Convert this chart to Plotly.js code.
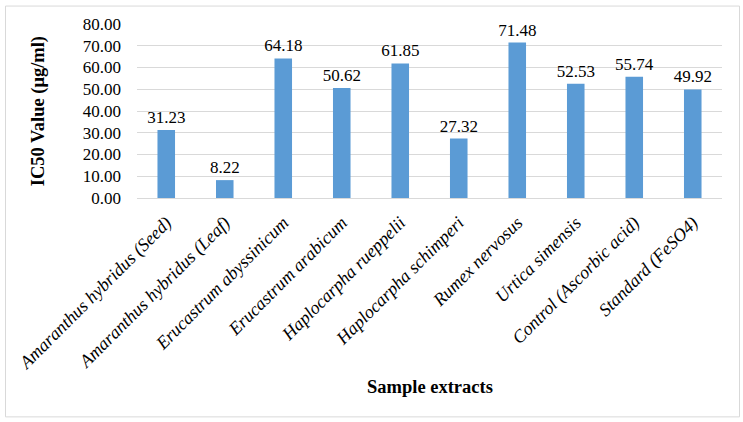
<!DOCTYPE html>
<html>
<head>
<meta charset="utf-8">
<script src="https://cdn.plot.ly/plotly-3.0.1.min.js"></script>
<style>html,body{margin:0;padding:0;background:#fff;}#chart{width:743px;height:422px;}</style>
</head>
<body>
<div id="chart"></div>
<script>
const categories = [
  "Amaranthus hybridus (Seed)",
  "Amaranthus hybridus (Leaf)",
  "Erucastrum abyssinicum",
  "Erucastrum arabicum",
  "Haplocarpha rueppelii",
  "Haplocarpha schimperi",
  "Rumex nervosus",
  "Urtica simensis",
  "Control (Ascorbic acid)",
  "Standard (FeSO4)"
];
const ic50Values = [31.23, 8.22, 64.18, 50.62, 61.85, 27.32, 71.48, 52.53, 55.74, 49.92];
const yTickValues = [0, 10, 20, 30, 40, 50, 60, 70, 80];
const xTitle = "Sample extracts";
const yTitle = "IC50 Value (μg/ml)";

const W = 743, H = 422;
const L = 137, R = 21, T = 23.5, B = 224;
const pw = W - L - R, ph = H - T - B;
const px = v => (v - L) / pw;
const py = v => (H - B - v) / ph;

const font = "Liberation Serif, Times New Roman, serif";

const trace = {
  type: "bar",
  x: categories,
  y: ic50Values,
  marker: {color: "#5B9BD5"},
  texttemplate: "%{y:.2f}",
  textposition: "outside",
  constraintext: "none",
  textfont: {family: font, size: 17, color: "#000"},
  outsidetextfont: {family: font, size: 17, color: "#000"},
  cliponaxis: false,
  hoverinfo: "x+y"
};

const layout = {
  width: W, height: H,
  margin: {l: L, r: R, t: T, b: B, pad: 0},
  paper_bgcolor: "#fff",
  plot_bgcolor: "#fff",
  bargap: 0.7,
  showlegend: false,
  font: {family: font, color: "#000"},
  xaxis: {
    type: "category",
    tickangle: -45,
    tickfont: {family: font, size: 18, style: "italic", color: "#000"},
    ticklabelstandoff: 6,
    showline: true, linecolor: "#D9D9D9", linewidth: 1,
    showgrid: false, ticks: "", automargin: false
  },
  yaxis: {
    range: [0, 80],
    tickvals: yTickValues,
    tickformat: ".2f",
    tickfont: {family: font, size: 17, color: "#000"},
    showgrid: true, gridcolor: "#D9D9D9", gridwidth: 1,
    zeroline: false, showline: false, ticks: "",
    ticklabelstandoff: 15,
    automargin: false
  },
  annotations: [
    {text: xTitle, xref: "paper", yref: "paper", x: 0.5, y: py(388), xanchor: "center", yanchor: "middle",
     showarrow: false, font: {family: font, size: 18.5, weight: "bold", color: "#000"}},
    {text: yTitle, xref: "paper", yref: "paper", x: px(38), y: py(111), xanchor: "center", yanchor: "middle",
     textangle: -90, showarrow: false, font: {family: font, size: 18.5, weight: "bold", color: "#000"}}
  ],
  shapes: [{
    type: "rect", xref: "paper", yref: "paper",
    x0: px(5.5), x1: px(739.5), y0: py(417.5), y1: py(5.5),
    line: {color: "#D9D9D9", width: 1}, fillcolor: "rgba(0,0,0,0)", layer: "below"
  }]
};

Plotly.newPlot("chart", [trace], layout, {displayModeBar: false, staticPlot: true});
</script>
</body>
</html>
